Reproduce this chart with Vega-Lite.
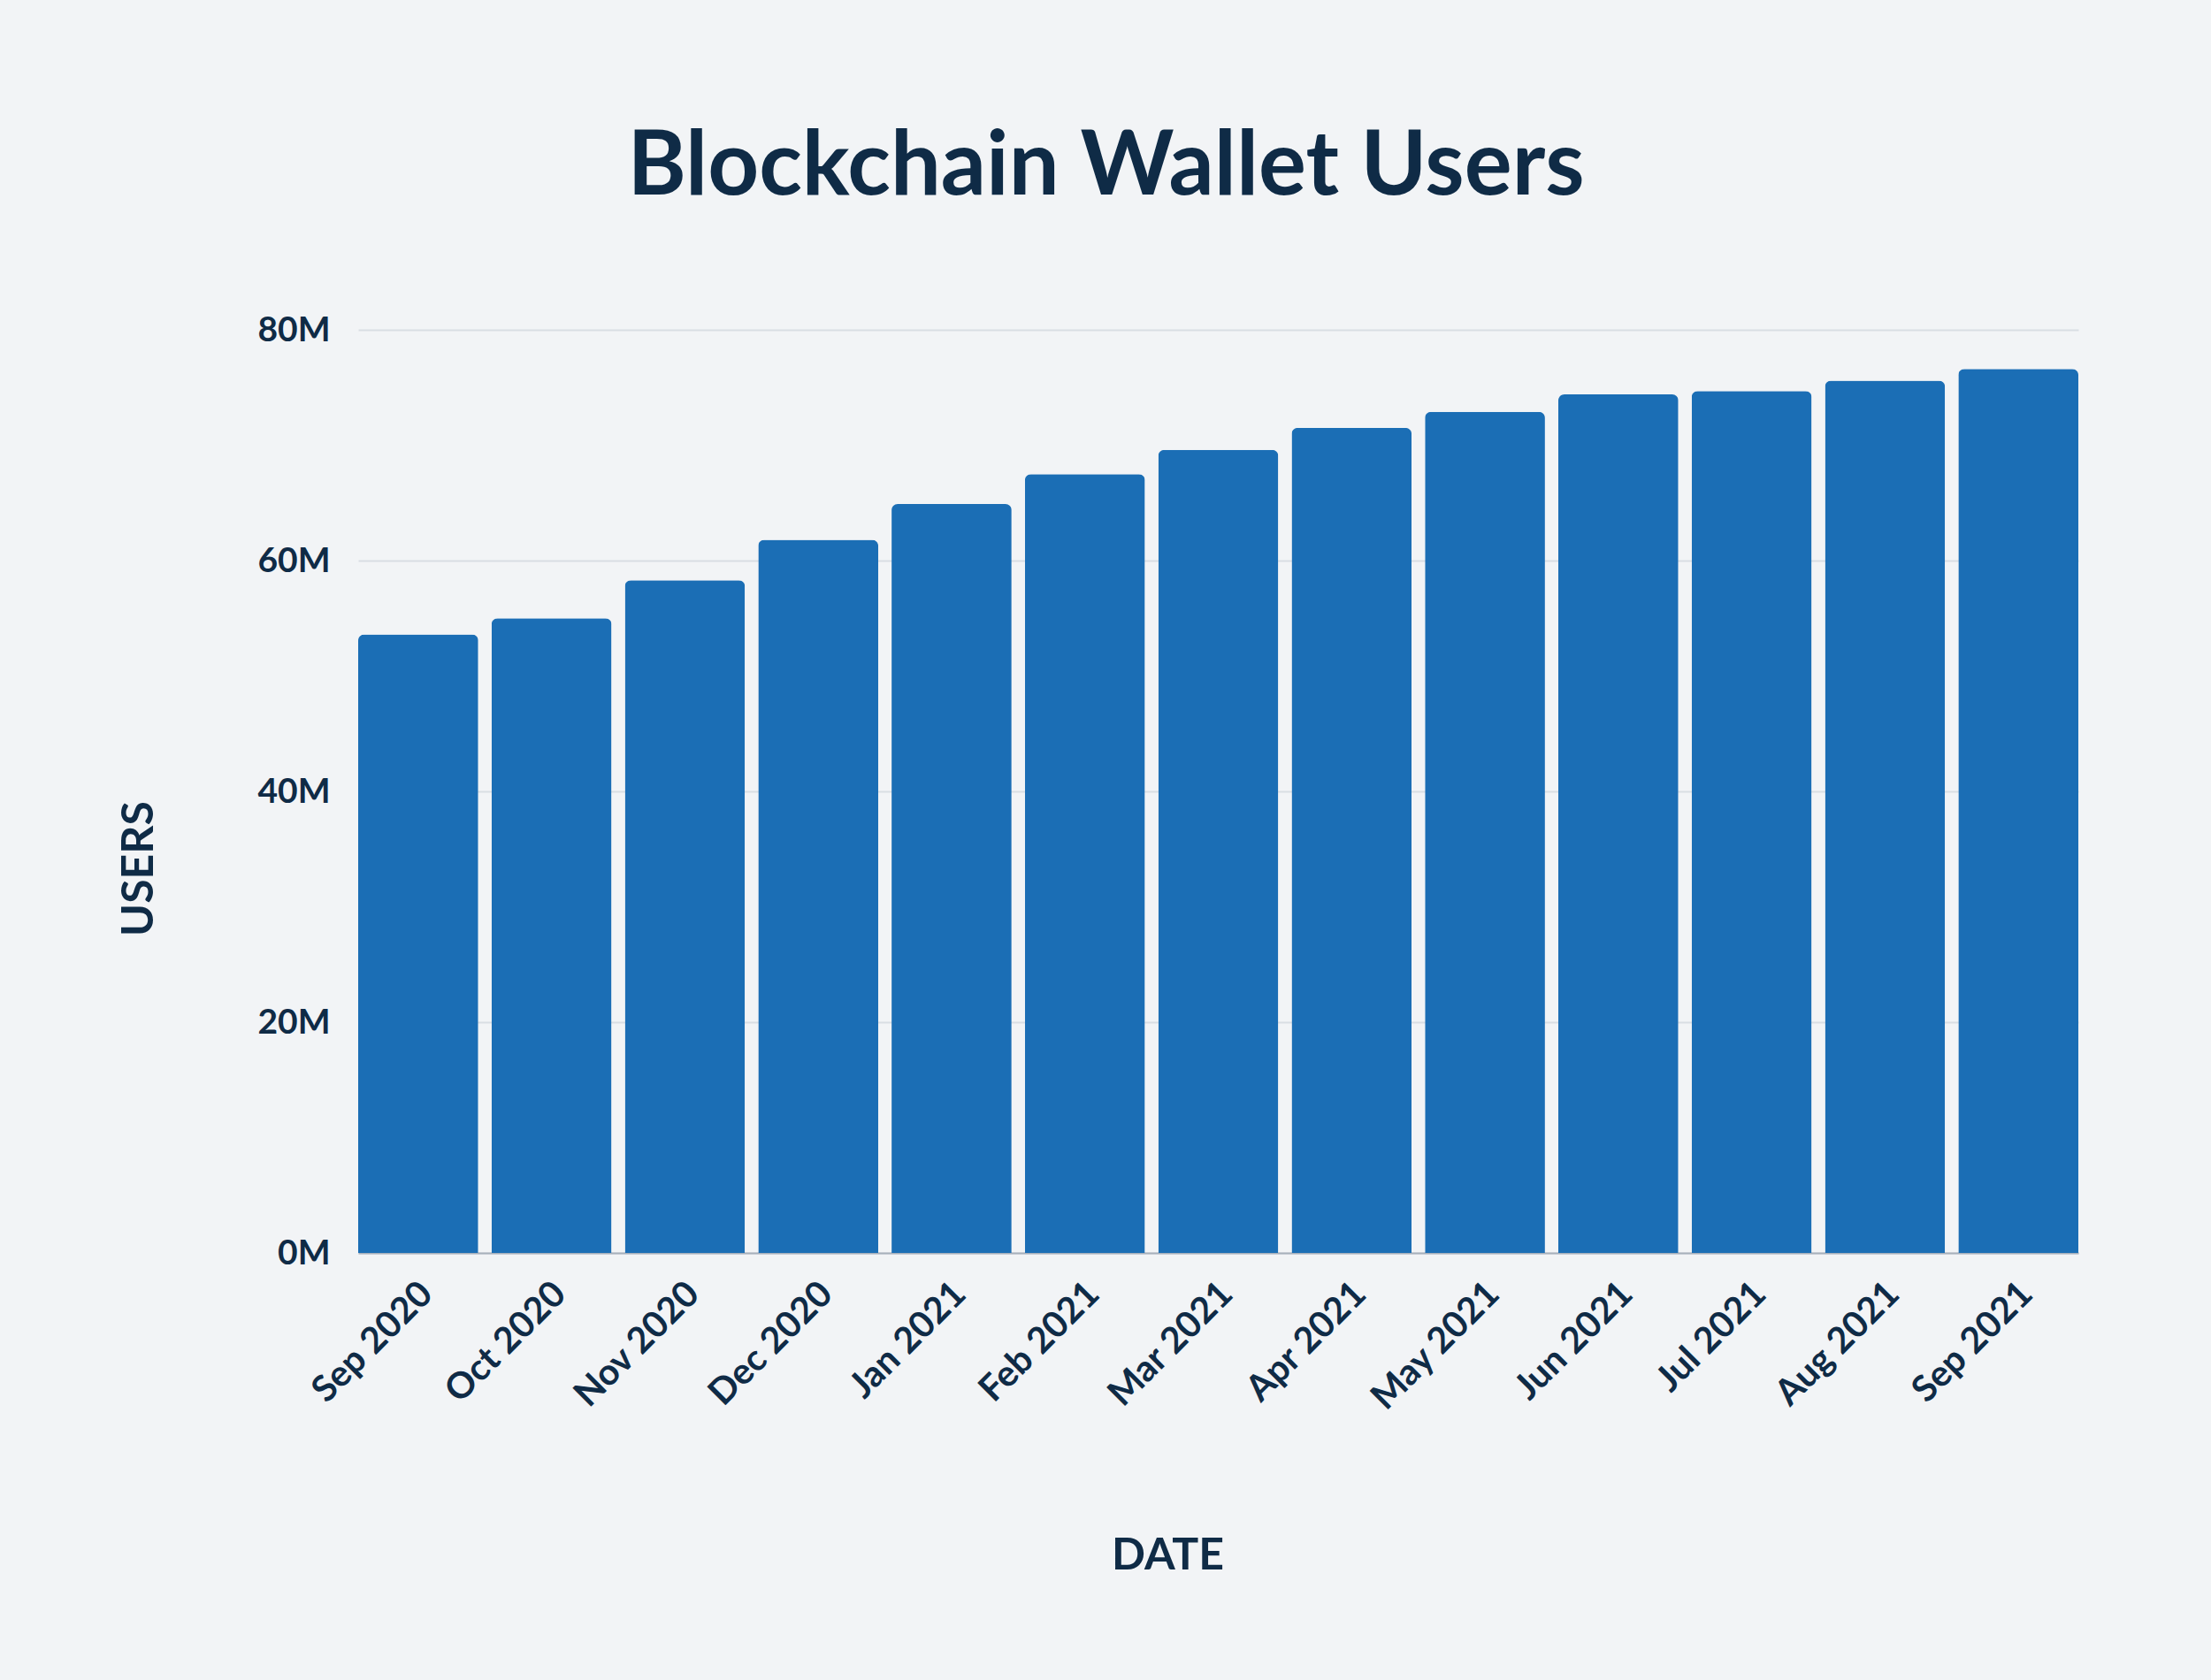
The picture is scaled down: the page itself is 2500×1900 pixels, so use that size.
{
  "$schema": "https://vega.github.io/schema/vega-lite/v6.json",
  "autosize": "none",
  "width": 1945,
  "height": 1044,
  "padding": {"left": 405, "top": 373, "right": 150, "bottom": 483},
  "background": "#f2f4f6",
  "title": {
    "text": "Blockchain Wallet Users",
    "anchor": "middle",
    "dx": -127,
    "offset": 33,
    "baseline": "alphabetic",
    "font": "Lato",
    "fontSize": 101,
    "fontWeight": "bold",
    "color": "#0f2b46"
  },
  "data": {
    "values": [
      {"month": "Sep 2020", "users": 53600000},
      {"month": "Oct 2020", "users": 55000000},
      {"month": "Nov 2020", "users": 58300000},
      {"month": "Dec 2020", "users": 61800000},
      {"month": "Jan 2021", "users": 64900000},
      {"month": "Feb 2021", "users": 67500000},
      {"month": "Mar 2021", "users": 69600000},
      {"month": "Apr 2021", "users": 71500000},
      {"month": "May 2021", "users": 72900000},
      {"month": "Jun 2021", "users": 74400000},
      {"month": "Jul 2021", "users": 74700000},
      {"month": "Aug 2021", "users": 75600000},
      {"month": "Sep 2021", "users": 76600000}
    ]
  },
  "mark": {
    "type": "bar",
    "color": "#1b6eb5",
    "cornerRadiusTopLeft": 7,
    "cornerRadiusTopRight": 7
  },
  "encoding": {
    "x": {
      "field": "month",
      "type": "ordinal",
      "sort": null,
      "title": "DATE",
      "scale": {"paddingInner": 0.1, "paddingOuter": 0},
      "axis": {
        "labelAngle": -45,
        "labelAlign": "right",
        "labelBaseline": "middle",
        "labelPadding": 40,
        "labelOffset": 10,
        "labelFontSize": 41,
        "labelLimit": 0,
        "ticks": false,
        "domainColor": "#a7b0bb",
        "domainWidth": 2,
        "titlePadding": 132,
        "titleX": 915
      }
    },
    "y": {
      "field": "users",
      "type": "quantitative",
      "title": "USERS",
      "scale": {"domain": [0, 80000000]},
      "axis": {
        "values": [0, 20000000, 40000000, 60000000, 80000000],
        "labelExpr": "format(datum.value / 1000000, 'd') + 'M'",
        "labelPadding": 32,
        "labelFontSize": 39,
        "ticks": false,
        "domain": false,
        "gridColor": "#d9dee3",
        "gridWidth": 2,
        "titlePadding": 108,
        "titleY": 609
      }
    }
  },
  "config": {
    "view": {"stroke": null},
    "axis": {
      "labelFont": "Lato",
      "labelFontWeight": "bold",
      "labelColor": "#0f2b46",
      "titleFont": "Lato",
      "titleFontSize": 50,
      "titleFontWeight": "bold",
      "titleColor": "#0f2b46"
    }
  }
}
